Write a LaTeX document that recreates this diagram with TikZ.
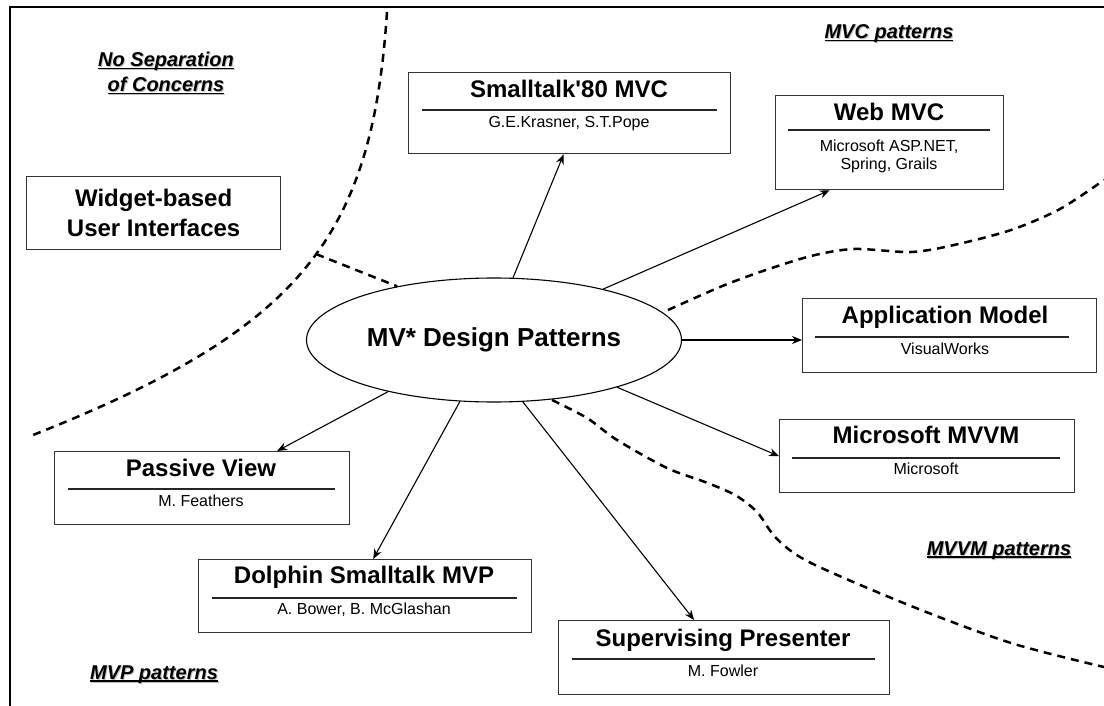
\documentclass[tikz,border=0pt]{standalone}
\usepackage{fontspec}
\setmainfont{Liberation Sans}
\usepackage{tikz}
\usepackage{xcolor}
\usetikzlibrary{arrows.meta,shapes.geometric}

\newcommand{\ulabel}[1]{\setbox0\hbox{#1}%
  \rlap{\kern1pt\raisebox{-1pt}{\color{black!25}\rlap{\rule[-2.5pt]{\wd0}{1.3pt}}#1}}%
  \rlap{\rule[-2.5pt]{\wd0}{1.3pt}}\box0}

\begin{document}
\begin{tikzpicture}[x=1pt,y=-1pt,
    pbox/.style={draw=black!80,line width=1.3pt,anchor=north west,inner sep=0pt},
    ptitle/.style={anchor=base,inner sep=0pt,font=\fontsize{24}{28}\selectfont\bfseries},
    psub/.style={anchor=base,inner sep=0pt,align=center,font=\fontsize{16}{18}\selectfont},
    prule/.style={line width=2.2pt,black!85},
    plabel/.style={anchor=base,inner sep=0pt,align=center,font=\fontsize{20}{25}\selectfont\bfseries\itshape},
    divide/.style={line width=2.5pt,dash pattern=on 8pt off 6pt},
    link/.style={-{Stealth[length=10pt,width=8pt]},line width=1.1pt}]
        \useasboundingbox (0,0) rectangle (1104,706);
        \draw[line width=2.3pt] (10,706) -- (10,7) -- (1104,7);
        \draw[divide] (387,12) .. controls (372,240) and (300,330) .. coordinate[pos=0.46] (jn) (28,437);
        \draw[divide] plot[smooth] coordinates {(668,310) (720,287) (760,272) (811,256) (854,249) (911,252) (954,245) (1011,230) (1060,209) (1104,180)};
        \draw[divide] plot[smooth] coordinates {(552,400) (587,418) (617,440) (667,468) (705,482) (735,495) (757,512) (777,539) (811,563) (911,606) (1011,643) (1104,667)};
        \node[ellipse,draw,fill=white,line width=1.1pt,minimum width=375pt,minimum height=124pt,inner sep=0pt,font=\fontsize{26}{30}\selectfont\bfseries] (mv) at (494,340) {MV* Design Patterns};
        \draw[divide] (jn) -- (mv.151);
        \node[plabel] (nosep) at (166,92) {\ulabel{No Separation}\\\ulabel{of Concerns}};
        \node[plabel] (mvcl) at (889,39) {\ulabel{MVC patterns}};
        \node[plabel] (mvvml) at (999,555) {\ulabel{MVVM patterns}};
        \node[plabel] (mvpl) at (154,679) {\ulabel{MVP patterns}};
        \node[pbox,minimum width=254pt,minimum height=73pt,align=center,font=\fontsize{24}{30}\selectfont\bfseries] (wb) at (26,176) {Widget-based\\User Interfaces};
        \node[pbox,minimum width=322pt,minimum height=81pt] (st) at (408,72) {};
        \node[ptitle] (stT) at (569,98) {Smalltalk\textquotesingle80 MVC};
        \draw[prule] (422,110) -- (717,110);
        \node[psub] (stS) at (569,128) {G.E.Krasner, S.T.Pope};
        \node[pbox,minimum width=228pt,minimum height=94pt] (web) at (775,95) {};
        \node[ptitle] (webT) at (889,121) {Web MVC};
        \draw[prule] (788,130) -- (990,130);
        \node[psub] (webS) at (889,170) {Microsoft ASP.NET,\\Spring, Grails};
        \node[pbox,minimum width=294pt,minimum height=74pt] (am) at (802,298) {};
        \node[ptitle] (amT) at (945,323) {Application Model};
        \draw[prule] (815,337) -- (1069,337);
        \node[psub] (amS) at (945,354) {VisualWorks};
        \node[pbox,minimum width=295pt,minimum height=73pt] (mvvm) at (779,419) {};
        \node[ptitle] (mvvmT) at (926,443) {Microsoft MVVM};
        \draw[prule] (792,458) -- (1060,458);
        \node[psub] (mvvmS) at (926,474) {Microsoft};
        \node[pbox,minimum width=331pt,minimum height=74pt] (sp) at (558,620) {};
        \node[ptitle] (spT) at (723,646) {Supervising Presenter};
        \draw[prule] (572,659) -- (875,659);
        \node[psub] (spS) at (723,676) {M. Fowler};
        \node[pbox,minimum width=333pt,minimum height=73pt] (dol) at (198,559) {};
        \node[ptitle] (dolT) at (364,583) {Dolphin Smalltalk MVP};
        \draw[prule] (212,598) -- (517,598);
        \node[psub] (dolS) at (364,614) {A. Bower, B. McGlashan};
        \node[pbox,minimum width=295pt,minimum height=73pt] (pv) at (54,451) {};
        \node[ptitle] (pvT) at (201,476) {Passive View};
        \draw[prule] (68,489) -- (335,489);
        \node[psub] (pvS) at (201,506) {M. Feathers};
        \draw[link] (mv.73) -- ([xshift=-6pt]st.south);
        \draw[link] (mv.25) -- ([xshift=-60pt]web.south);
        \draw[link] (mv.east) -- (mv.east -| am.west);
        \draw[link] (mv.-21) -- (mvvm.west);
        \draw[link] (mv.-65) -- ([xshift=-30pt]sp.north);
        \draw[link] (mv.-119) -- ([xshift=8pt]dol.north);
        \draw[link] (mv.-154) -- ([xshift=75pt]pv.north);
\end{tikzpicture}
\end{document}
